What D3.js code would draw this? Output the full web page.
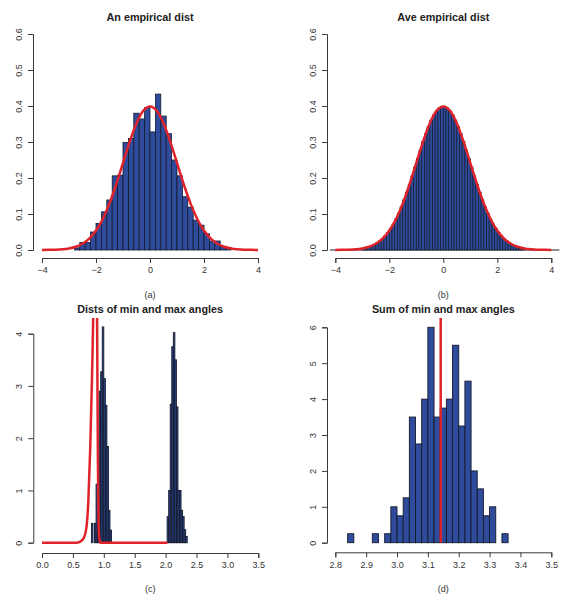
<!DOCTYPE html>
<html><head><meta charset="utf-8">
<script src="https://cdn.jsdelivr.net/npm/d3@7"></script>
<style>body{margin:0;background:#fff}svg{display:block}text{font-family:"Liberation Sans",Arial,Helvetica,sans-serif}</style>
</head><body><svg id="c" width="577" height="599"></svg>
<script>
// ---------- DATA ----------
// (a) An empirical dist : bin left edges (width 0.2) and densities
const aLefts = [-2.8,-2.6,-2.4,-2.2,-2.0,-1.8,-1.6,-1.4,-1.2,-1.0,-0.8,-0.6,-0.4,-0.2,0.0,0.2,0.4,0.6,0.8,1.0,1.2,1.4,1.6,1.8,2.0,2.2,2.4,2.6,2.8];
const aDens  = [0.006,0.021,0.021,0.050,0.074,0.106,0.139,0.206,0.208,0.299,0.310,0.380,0.364,0.396,0.328,0.433,0.372,0.323,0.250,0.206,0.148,0.119,0.083,0.069,0.045,0.025,0.025,0.009,0.007];
const aWidth = 0.2;
// (b) Ave empirical dist : bin left edges (width 0.1) and densities
const bLefts = [-3.0,-2.9,-2.8,-2.7,-2.6,-2.5,-2.4,-2.3,-2.2,-2.1,-2.0,-1.9,-1.8,-1.7,-1.6,-1.5,-1.4,-1.3,-1.2,-1.1,-1.0,-0.9,-0.8,-0.7,-0.6,-0.5,-0.4,-0.3,-0.2,-0.1,
                0.0,0.1,0.2,0.3,0.4,0.5,0.6,0.7,0.8,0.9,1.0,1.1,1.2,1.3,1.4,1.5,1.6,1.7,1.8,1.9,2.0,2.1,2.2,2.3,2.4,2.5,2.6,2.7,2.8,2.9];
const bDens  = [0.0051,0.0069,0.0091,0.0119,0.0154,0.0198,0.0252,0.0317,0.0396,0.0488,0.0596,0.0721,0.0863,0.1023,0.1200,0.1394,0.1604,0.1826,0.2059,0.2299,0.2541,0.2780,0.3011,0.3230,0.3429,0.3605,0.3752,0.3867,0.3945,0.3984,
                0.3984,0.3945,0.3867,0.3752,0.3605,0.3429,0.3230,0.3011,0.2780,0.2541,0.2299,0.2059,0.1826,0.1604,0.1394,0.1200,0.1023,0.0863,0.0721,0.0596,0.0488,0.0396,0.0317,0.0252,0.0198,0.0154,0.0119,0.0091,0.0069,0.0051];
const bWidth = 0.1;
// normal density curve used in (a) and (b)
const curveX = [-4,-3.75,-3.5,-3.25,-3,-2.75,-2.5,-2.25,-2,-1.75,-1.5,-1.25,-1,-0.75,-0.5,-0.25,0,0.25,0.5,0.75,1,1.25,1.5,1.75,2,2.25,2.5,2.75,3,3.25,3.5,3.75,4];
const curveY = [0.0001,0.0004,0.0009,0.0020,0.0044,0.0091,0.0175,0.0317,0.0540,0.0863,0.1295,0.1826,0.2420,0.3011,0.3521,0.3867,0.3989,0.3867,0.3521,0.3011,0.2420,0.1826,0.1295,0.0863,0.0540,0.0317,0.0175,0.0091,0.0044,0.0020,0.0009,0.0004,0.0001];
// (c) Dists of min and max angles : bin left edges (width 0.025)
const cMinLefts = [0.8,0.825,0.85,0.875,0.9,0.925,0.95,0.975,1.0,1.025,1.05,1.075,1.1];
const cMinDens  = [0.37,0,0.37,1.12,1.5,2.9,3.27,4.13,3.14,2.63,1.84,0.62,0.24];
const cMaxLefts = [2.025,2.05,2.075,2.1,2.125,2.15,2.175,2.2,2.225,2.25,2.275,2.3,2.325];
const cMaxDens  = [0.5,1.0,2.65,3.75,4.02,3.5,2.6,1.0,1.0,0.62,0.5,0.25,0.12];
const cWidth = 0.025;
const cCurveX = [0,0.55,0.62,0.68,0.72,0.75,0.78,0.81,0.84,0.87,0.885,0.895,0.905,0.915,0.93,0.95,2.03];
const cCurveY = [0,0,0.02,0.1,0.3,0.8,1.8,3.2,5.0,6.5,5.5,3.5,1.5,0.4,0.05,0,0];
// (d) Sum of min and max angles : bin left edges (width 0.02)
const dLefts = [2.84,2.86,2.88,2.90,2.92,2.94,2.96,2.98,3.00,3.02,3.04,3.06,3.08,3.10,3.12,3.14,3.16,3.18,3.20,3.22,3.24,3.26,3.28,3.30,3.32,3.34];
const dDens  = [0.25,0,0,0,0.25,0,0.25,1.0,0.75,1.25,3.5,2.75,4.0,6.0,3.5,3.75,4.0,5.5,3.25,4.5,2.0,1.5,0.75,1.0,0,0.25];
const dWidth = 0.02;
const dLine = 3.14159;

const abXTicks = [-4,-2,0,2,4];
const abYTicks = [0.0,0.1,0.2,0.3,0.4,0.5,0.6];
const cXTicks = [0.0,0.5,1.0,1.5,2.0,2.5,3.0,3.5];
const cYTicks = [0,1,2,3,4];
const dXTicks = [2.8,2.9,3.0,3.1,3.2,3.3,3.4,3.5];
const dYTicks = [0,1,2,3,4,5,6];

const titles = ["An empirical dist","Ave empirical dist","Dists of min and max angles","Sum of min and max angles"];
const subs = ["(a)","(b)","(c)","(d)"];

// ---------- DRAW ----------
const svg = d3.select("#c");
const BLUE = "#2e4c9b", EDGE = "#151a2c", RED = "#e0232b", AX = "#3a3a3a";

function panel(o){
  const g = svg.append("g");
  const x = d3.scaleLinear().domain(o.xd).range(o.xr);
  const y = d3.scaleLinear().domain(o.yd).range(o.yr);
  const clipId = "clip"+o.id;
  g.append("clipPath").attr("id",clipId).append("rect")
    .attr("x",o.clip[0]).attr("y",o.clip[1]).attr("width",o.clip[2]-o.clip[0]).attr("height",o.clip[3]-o.clip[1]);
  const pg = g.append("g").attr("clip-path","url(#"+clipId+")");
  const xa = g.append("g").attr("transform","translate(0,"+o.xAxisY+")")
    .call(d3.axisBottom(x).tickValues(o.xt).tickSize(5).tickPadding(4).tickFormat(o.xf));
  const ya = g.append("g").attr("transform","translate("+o.yAxisX+",0)")
    .call(d3.axisLeft(y).tickValues(o.yt).tickSize(5).tickPadding(4).tickFormat(o.yf));
  [xa,ya].forEach(a=>{
    a.select(".domain").attr("stroke",AX).attr("stroke-width",1);
    a.selectAll(".tick line").attr("stroke",AX);
    a.selectAll(".tick text").attr("fill","#333").style("font-size","9px");
  });
  ya.selectAll(".tick text").attr("x",0).attr("y",0)
    .attr("dy",null).attr("text-anchor","middle")
    .attr("transform","translate(-11,0) rotate(-90)");
  xa.selectAll(".tick text").attr("dy","0.71em");
  g.append("text").attr("x",(o.xr[0]+o.xr[1])/2).attr("y",o.titleY).attr("text-anchor","middle")
    .style("font-size","10.8px").style("font-weight","bold").attr("fill","#222").text(o.title);
  g.append("text").attr("x",(o.xr[0]+o.xr[1])/2).attr("y",o.subY).attr("text-anchor","middle")
    .style("font-size","9px").attr("fill","#333").text(o.sub);
  return {g, pg, x, y};
}

function bars(p, lefts, dens, w, sw){
  p.pg.append("g").selectAll("rect").data(lefts.map((l,i)=>({l, v:dens[i]}))).join("rect")
    .attr("x",d=>p.x(d.l)).attr("width",d=>p.x(d.l+w)-p.x(d.l))
    .attr("y",d=>p.y(d.v)).attr("height",d=>p.y(0)-p.y(d.v))
    .attr("fill",BLUE).attr("stroke",EDGE).attr("stroke-width",sw);
}
function curve(p, xs, ys, w, c){
  p.pg.append("path").datum(xs.map((v,i)=>[v,ys[i]]))
    .attr("d",d3.line().x(d=>p.x(d[0])).y(d=>p.y(d[1])).curve(c||d3.curveMonotoneX))
    .attr("fill","none").attr("stroke",RED).attr("stroke-width",w).attr("stroke-linejoin","round");
}

const fmt1 = d3.format(".1f"), fmt0 = d3.format("d");
const pa = panel({id:"a", xd:[-4,4], xr:[42,258], yd:[0,0.6], yr:[250,34], clip:[33,25,267,259],
  xAxisY:258, yAxisX:33, xt:abXTicks, yt:abYTicks, xf:fmt0, yf:fmt1, title:titles[0], titleY:21, sub:subs[0], subY:298});
bars(pa, aLefts, aDens, aWidth, 0.8);
curve(pa, curveX, curveY, 2.5);
const pb = panel({id:"b", xd:[-4,4], xr:[335.3,551.3], yd:[0,0.6], yr:[250,34], clip:[326,25,561,259],
  xAxisY:258, yAxisX:327, xt:abXTicks, yt:abYTicks, xf:fmt0, yf:fmt1, title:titles[1], titleY:21, sub:subs[1], subY:298});
pb.pg.append("line").attr("x1",pb.x(-4.2)).attr("x2",pb.x(4.3)).attr("y1",pb.y(0)).attr("y2",pb.y(0)).attr("stroke","#222").attr("stroke-width",1);
bars(pb, bLefts, bDens, bWidth, 0.7);
curve(pb, curveX, curveY, 2.5);
const pc = panel({id:"c", xd:[0,3.5], xr:[42,258.3], yd:[0,4], yr:[542.7,333.7], clip:[33,318,267,552],
  xAxisY:553, yAxisX:33.3, xt:cXTicks, yt:cYTicks, xf:fmt1, yf:fmt0, title:titles[2], titleY:313, sub:subs[2], subY:592});
bars(pc, cMinLefts, cMinDens, cWidth, 0.9);
bars(pc, cMaxLefts, cMaxDens, cWidth, 0.9);
curve(pc, cCurveX, cCurveY, 2.5);
const pd = panel({id:"d", xd:[2.8,3.5], xr:[335.3,551.3], yd:[0,6], yr:[542.7,327.3], clip:[326,318,561,552],
  xAxisY:552.3, yAxisX:327, xt:dXTicks, yt:dYTicks, xf:fmt1, yf:fmt0, title:titles[3], titleY:313, sub:subs[3], subY:592});
bars(pd, dLefts, dDens, dWidth, 0.9);
pd.pg.append("line").attr("x1",pd.x(dLine)).attr("x2",pd.x(dLine)).attr("y1",pd.y(0)).attr("y2",300)
  .attr("stroke",RED).attr("stroke-width",2.5);
</script></body></html>
